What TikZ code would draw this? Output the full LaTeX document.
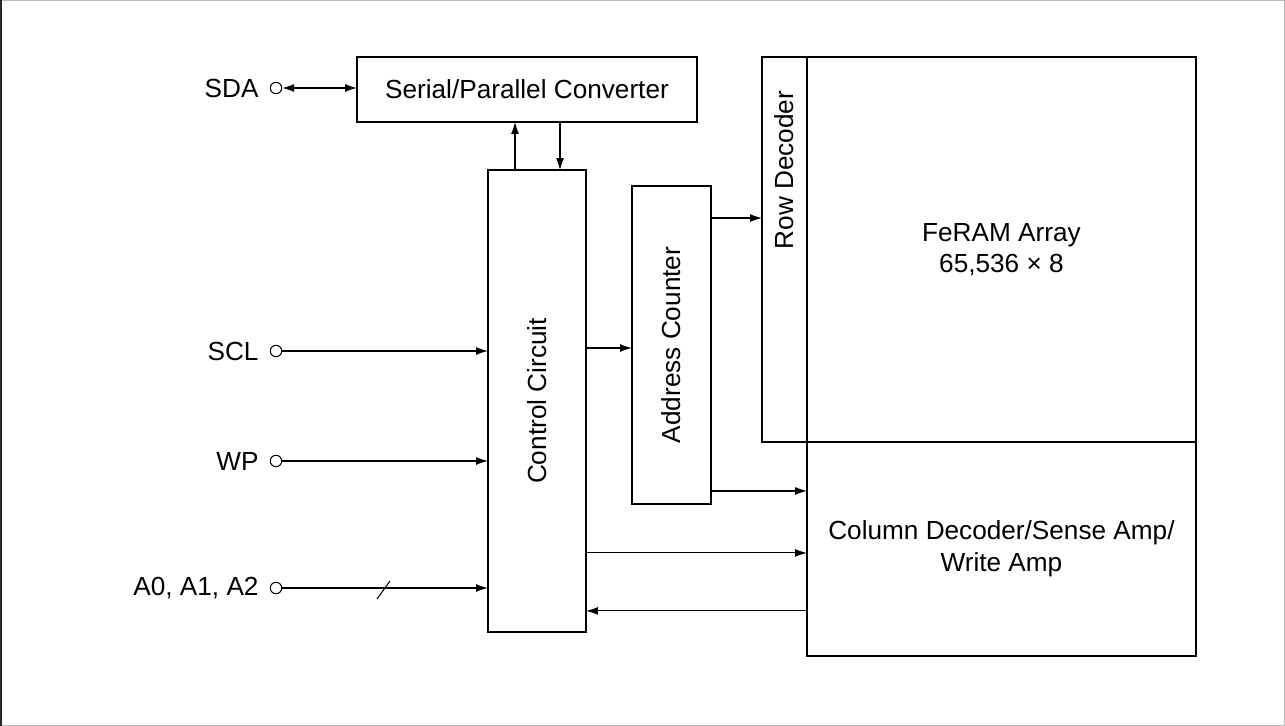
\documentclass[tikz,border=0pt]{standalone}
\usepackage{fontspec}
\setmainfont{Liberation Sans}
\usetikzlibrary{positioning, arrows.meta}

\begin{document}
\begin{tikzpicture}[x=0.02cm, y=-0.02cm,
  font=\fontsize{14.9}{18}\selectfont,
  block/.style={draw, line width=1.2pt, rectangle, outer sep=0pt, inner sep=0pt},
  terminal/.style={draw, circle, line width=0.6pt, minimum size=6.5pt, inner sep=0pt},
  sig/.style={-{Latex[length=6.8pt, width=4.5pt]}, line width=0.6pt},
  bisig/.style={{Latex[length=6.8pt, width=4.5pt]}-{Latex[length=6.8pt, width=4.5pt]}, line width=0.6pt}]
  \useasboundingbox (0,0) rectangle (1285,726);
  \draw[gray!55, line width=0.6pt] (0.5,0.5) rectangle (1284.5,725.5);
  \draw[black!85, line width=1.2pt] (1,0) -- (1,726);

  \node[block, minimum width=6.8cm, minimum height=1.3cm] (sp) at (527,89.5) {Serial/Parallel Converter};
  \node[block, minimum width=1.96cm, minimum height=9.24cm] (ctrl) at (537,401) {};
  \node[rotate=90] (ctrltext) at (ctrl) {Control Circuit};
  \node[block, minimum width=1.58cm, minimum height=6.36cm] (addr) at (671.5,345) {};
  \node[rotate=90] (addrtext) at (addr) {Address Counter};
  \node[block, minimum width=0.9cm, minimum height=7.7cm] (rowdec) at (784.5,249.5) {};
  \node[rotate=90] (rowtext) at (784.5,170) {Row Decoder};
  \node[block, minimum width=7.78cm, minimum height=7.7cm, right=0pt of rowdec, align=center] (array) {FeRAM Array\\65,536 × 8};
  \node[block, minimum width=7.78cm, minimum height=4.28cm, below=0pt of array, align=center] (coldec) {Column Decoder/Sense Amp/\\Write Amp};

  % pins
  \node[terminal] (sda) at (276,88) {};
  \node[terminal] (scl) at (276,351) {};
  \node[terminal] (wp) at (276,461) {};
  \node[terminal] (apin) at (276,588) {};
  \node[left=0.1cm of sda] (sdalabel) {SDA};
  \node[left=0.1cm of scl] (scllabel) {SCL};
  \node[left=0.1cm of wp] (wplabel) {WP};
  \node[left=0.1cm of apin] (apinlabel) {A0, A1, A2};

  \draw[bisig] (sda) -- (sda -| sp.west);
  \draw[sig] (scl) -- (scl -| ctrl.west);
  \draw[sig] (wp) -- (wp -| ctrl.west);
  \draw[sig] (apin) -- (apin -| ctrl.west);
  \draw[line width=0.6pt] (377,599) -- (390,581);

  \draw[sig] ([xshift=-0.44cm]ctrl.north) coordinate (up) -- (up |- sp.south);
  \draw[sig] ([xshift=0.46cm]ctrl.north |- sp.south) coordinate (dn) -- (dn |- ctrl.north);

  \draw[sig] ([yshift=-0.06cm]addr.west -| ctrl.east) coordinate (ca) -- (ca -| addr.west);
  \draw[sig] ([yshift=-0.64cm]addr.north east) coordinate (ar) -- (ar -| rowdec.west);
  \draw[sig] ([yshift=0.26cm]addr.south east) coordinate (ac) -- (ac -| coldec.west);
  \draw[sig] ([yshift=-0.08cm]coldec.west -| ctrl.east) coordinate (cc) -- (cc -| coldec.west);
  \draw[sig] ([yshift=-1.24cm]coldec.west) coordinate (back) -- (back -| ctrl.east);
\end{tikzpicture}
\end{document}
